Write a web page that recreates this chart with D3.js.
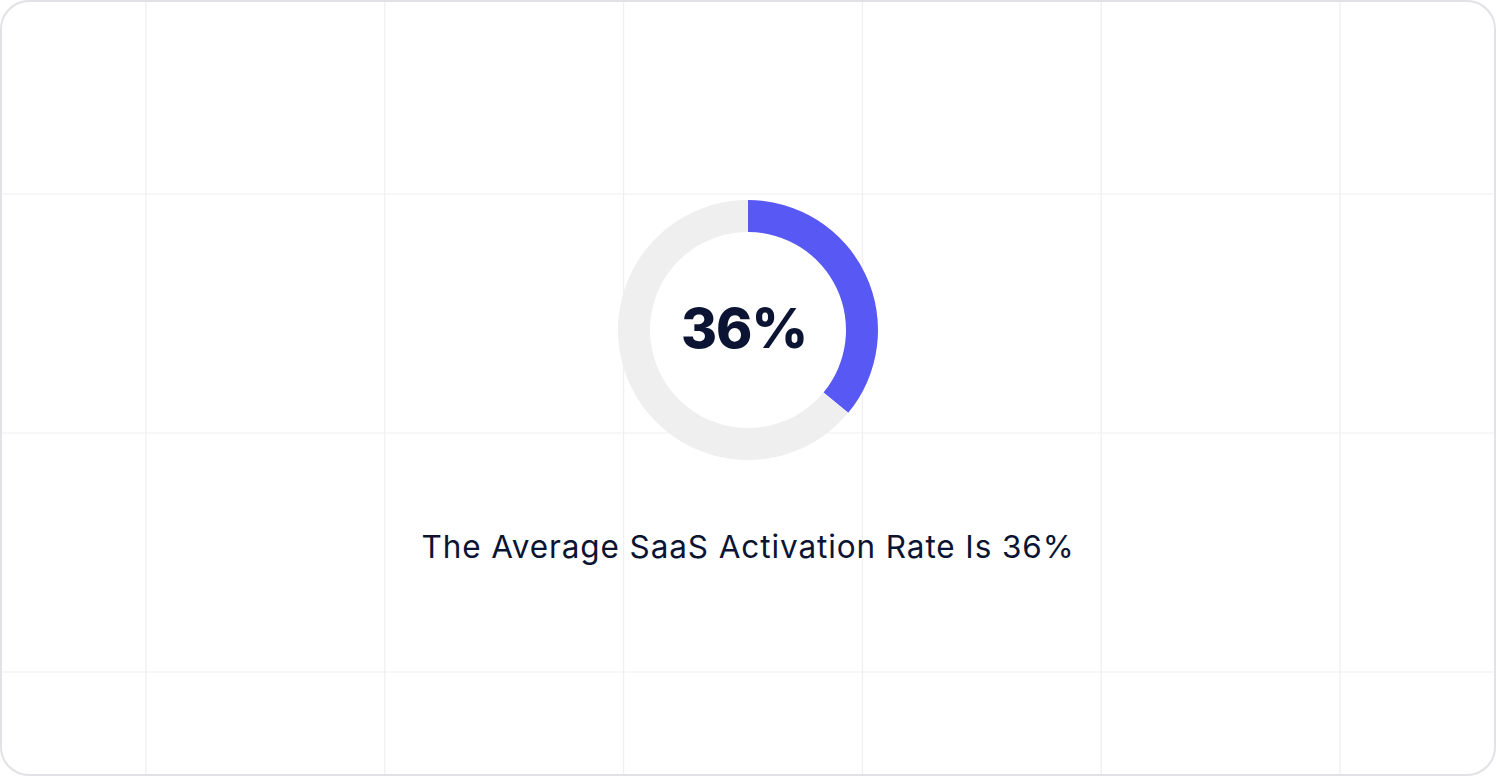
<!DOCTYPE html>
<html>
<head>
<meta charset="utf-8">
<script src="https://cdn.jsdelivr.net/npm/d3@7"></script>
<style>
  html, body { margin: 0; padding: 0; background: #ffffff; }
  svg { display: block; }
</style>
</head>
<body>
<svg id="chart" width="1496" height="776"></svg>
<script>
const categories = ["Activated", "Not activated"];
const values = [36, 64];
const centerLabel = "36%";
const caption = "The Average SaaS Activation Rate Is 36%";
const colors = ["#5858f4", "#efefef"];

const W = 1496, H = 776;
const svg = d3.select("#chart");

// grid lines
const gridX = d3.range(146, W, 238.8);
const gridY = d3.range(194, H, 239);
const g = svg.append("g");
g.selectAll("line.v").data(gridX).join("line")
  .attr("x1", d => d).attr("x2", d => d).attr("y1", 2).attr("y2", H - 2)
  .attr("stroke", "#efeff1").attr("stroke-width", 1.2);
g.selectAll("line.h").data(gridY).join("line")
  .attr("y1", d => d).attr("y2", d => d).attr("x1", 2).attr("x2", W - 2)
  .attr("stroke", "#efeff1").attr("stroke-width", 1.2);

// border
svg.append("rect").attr("x", 1).attr("y", 1).attr("width", W - 2).attr("height", H - 2)
  .attr("rx", 28).attr("ry", 28).attr("fill", "none").attr("stroke", "#e2e2e6").attr("stroke-width", 2);

// donut
const cx = 748, cy = 330;
const pie = d3.pie().sort(null).value(d => d);
const arc = d3.arc().innerRadius(98).outerRadius(130);
const donut = svg.append("g").attr("transform", `translate(${cx},${cy})`);
donut.selectAll("path").data(pie(values)).join("path")
  .attr("d", arc)
  .attr("fill", (d, i) => colors[i]);

donut.append("text")
  .attr("text-anchor", "middle").attr("x", -4).attr("y", 18)
  .attr("font-family", "Inter, sans-serif").attr("font-weight", 800)
  .attr("font-size", 55).attr("letter-spacing", -1).attr("fill", "#0b1533")
  .text(centerLabel);

svg.append("text")
  .attr("x", cx).attr("y", 558).attr("text-anchor", "middle")
  .attr("font-family", "Inter, sans-serif").attr("font-weight", 400)
  .attr("font-size", 31.5).attr("letter-spacing", 0.9).attr("fill", "#0b1533")
  .text(caption);
</script>
</body>
</html>
